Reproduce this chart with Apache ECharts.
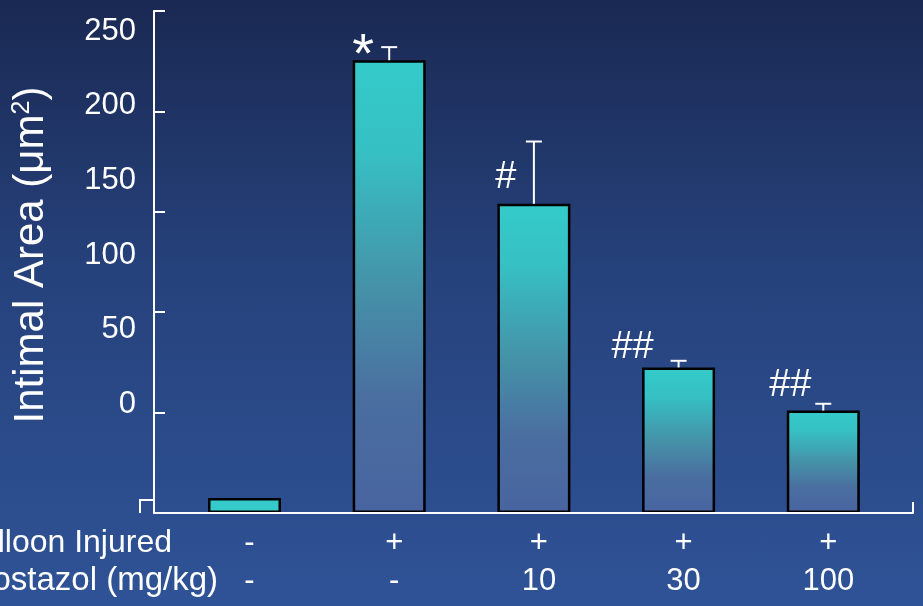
<!DOCTYPE html>
<html>
<head>
<meta charset="utf-8">
<script src="https://cdn.jsdelivr.net/npm/echarts@6/dist/echarts.min.js"></script>
<style>
  html, body { margin: 0; padding: 0; }
  #chart {
    width: 923px; height: 606px;
    background: linear-gradient(to bottom, #1a2953 0%, #26427c 45%, #2f5397 100%);
  }
</style>
</head>
<body>
<div id="chart"></div>
<script>
// Intimal area after balloon injury, by cilostazol dose
const injured = ['-', '+', '+', '+', '+'];
const cilostazol = ['-', '-', '10', '30', '100'];
const meanArea = [7.5, 225.5, 154, 72.5, 51];
const semArea = [0, 6.5, 31, 3.3, 3.4];
const sigMarks = ['', '*', '#', '##', '##'];
const yTickLabels = [0, 50, 100, 150, 200, 250];

const FONT = "'Liberation Sans', Arial, sans-serif";
const X_MIN = -0.6254, X_MAX = 4.62;

// where each significance mark sits relative to the top of its bar (px)
const markOffsets = [[0, 0], [-26, -4], [-28, -26], [-46, -20], [-33, -25]];
const markSizes = [0, 56, 38, 38, 38];

const barGradient = new echarts.graphic.LinearGradient(0, 0, 0, 1, [
  { offset: 0, color: '#34cbca' },
  { offset: 0.2, color: '#36c0c4' },
  { offset: 0.5, color: '#4592a8' },
  { offset: 0.75, color: '#4a6ea0' },
  { offset: 1, color: '#4864a0' }
]);

const barData = meanArea.map((v, i) => [i, v]);
const errData = meanArea.map((v, i) => [i, v, semArea[i], i]);

const chart = echarts.init(document.getElementById('chart'), null, { renderer: 'canvas' });

chart.setOption({
  backgroundColor: 'transparent',
  animation: false,
  grid: { left: 154, right: 10, top: 11, bottom: 93 },
  xAxis: {
    type: 'value',
    min: X_MIN,
    max: X_MAX,
    z: 10,
    splitLine: { show: false },
    axisLine: { show: true, onZero: false, lineStyle: { color: '#ffffff', width: 2 } },
    axisTick: { show: true, inside: true, length: 11, customValues: [X_MAX], lineStyle: { color: '#ffffff', width: 2 } },
    axisLabel: {
      customValues: [0, 1, 2, 3, 4],
      color: '#ffffff',
      fontFamily: FONT,
      fontSize: 31,
      lineHeight: 38,
      margin: 11,
      padding: [0, 0, 0, 10],
      formatter: v => injured[v] + '\n' + cilostazol[v]
    }
  },
  yAxis: [
    {
      type: 'value',
      min: 0,
      max: 250,
      interval: 50,
      z: 10,
      splitLine: { show: false },
      axisLine: { show: true, onZero: false, lineStyle: { color: '#ffffff', width: 2 } },
      axisTick: { show: true, inside: true, length: 11, lineStyle: { color: '#ffffff', width: 2 } },
      axisLabel: { show: false },
      name: 'Intimal Area (μm{sup|2})',
      nameLocation: 'middle',
      nameRotate: 90,
      nameGap: 102,
      nameTextStyle: {
        color: '#ffffff',
        fontFamily: FONT,
        fontSize: 42,
        padding: [0, 0, 0, 14],
        rich: { sup: { fontSize: 25, verticalAlign: 'top', color: '#ffffff', fontFamily: FONT, padding: [0, 0, 16, 0] } }
      }
    },
    {
      type: 'value',
      min: -72.6,
      max: 263.4,
      position: 'left',
      splitLine: { show: false },
      axisLine: { show: false, onZero: false },
      axisTick: { show: false },
      axisLabel: {
        customValues: yTickLabels,
        color: '#ffffff',
        fontFamily: FONT,
        fontSize: 31,
        margin: 18
      }
    }
  ],
  series: [
    {
      type: 'bar',
      data: barData,
      barWidth: 73,
      itemStyle: {
        borderColor: '#000000',
        borderWidth: 2.5,
        color: p => (p.dataIndex === 0 ? '#34cbca' : barGradient)
      }
    },
    {
      type: 'custom',
      data: errData,
      z: 5,
      renderItem: (params, api) => {
        const x = api.value(0), m = api.value(1), e = api.value(2), idx = api.value(3);
        const top = api.coord([x, m]);
        const hi = api.coord([x, m + e]);
        const children = [];
        if (e > 0) {
          children.push({ type: 'line', shape: { x1: top[0], y1: top[1], x2: hi[0], y2: hi[1] }, style: { stroke: '#ffffff', lineWidth: 2 } });
          children.push({ type: 'line', shape: { x1: hi[0] - 8, y1: hi[1], x2: hi[0] + 8, y2: hi[1] }, style: { stroke: '#ffffff', lineWidth: 2 } });
        }
        if (sigMarks[idx]) {
          children.push({
            type: 'text',
            style: {
              text: sigMarks[idx],
              x: top[0] + markOffsets[idx][0],
              y: top[1] + markOffsets[idx][1],
              align: 'center',
              verticalAlign: 'middle',
              fill: '#ffffff',
              fontFamily: FONT,
              fontSize: markSizes[idx]
            }
          });
        }
        return { type: 'group', children };
      }
    }
  ]
});

// small step at the foot of the value axis, plus the row titles of the table below
const origin = chart.convertToPixel({ xAxisIndex: 0, yAxisIndex: 0 }, [X_MIN, 0]);
chart.setOption({
  graphic: [
    {
      type: 'polyline',
      shape: { points: [[origin[0], origin[1] - 13], [origin[0] - 14, origin[1] - 13], [origin[0] - 14, origin[1]]] },
      style: { stroke: '#ffffff', lineWidth: 2, fill: null }
    },
    {
      type: 'text',
      x: 172, y: 543,
      style: { text: 'Balloon Injured', align: 'right', verticalAlign: 'middle', fill: '#ffffff', fontFamily: FONT, fontSize: 32 }
    },
    {
      type: 'text',
      x: 218, y: 581,
      style: { text: 'Cilostazol (mg/kg)', align: 'right', verticalAlign: 'middle', fill: '#ffffff', fontFamily: FONT, fontSize: 33 }
    }
  ]
});
</script>
</body>
</html>
